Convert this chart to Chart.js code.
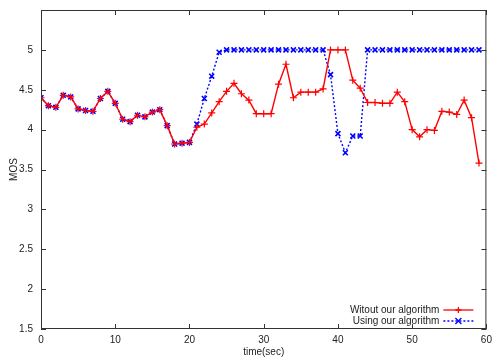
<!DOCTYPE html>
<html>
<head>
<meta charset="utf-8">
<script src="https://cdn.jsdelivr.net/npm/chart.js@4/dist/chart.umd.min.js"></script>
<style>
  html, body { margin: 0; padding: 0; background: #fff; }
  #wrap { width: 492px; height: 358px; }
</style>
</head>
<body>
<div id="wrap"><canvas id="mos"></canvas></div>
<script>
// time axis (seconds)
const seconds = Array.apply(null, { length: 60 }).map(Number.call, Number);

const withoutAlgo = [
    4.40, 4.30, 4.28, 4.43, 4.41, 4.26, 4.24, 4.23, 4.39, 4.48,
    4.33, 4.13, 4.10, 4.18, 4.16, 4.22, 4.25, 4.05, 3.82, 3.83,
    3.84, 4.03, 4.07, 4.21, 4.35, 4.48, 4.58, 4.45, 4.37, 4.20,
    4.20, 4.20, 4.57, 4.82, 4.40, 4.47, 4.47, 4.47, 4.51, 5.00,
    5.00, 5.00, 4.62, 4.52, 4.34, 4.34, 4.33, 4.33, 4.47, 4.35,
    4.00, 3.91, 4.00, 3.99, 4.23, 4.22, 4.19, 4.37, 4.15, 3.58
];

const withAlgo = [
    4.40, 4.30, 4.28, 4.43, 4.41, 4.26, 4.24, 4.23, 4.39, 4.48,
    4.33, 4.13, 4.10, 4.18, 4.16, 4.22, 4.25, 4.05, 3.82, 3.83,
    3.84, 4.07, 4.39, 4.67, 4.97, 5.00, 5.00, 5.00, 5.00, 5.00,
    5.00, 5.00, 5.00, 5.00, 5.00, 5.00, 5.00, 5.00, 5.00, 4.69,
    3.95, 3.71, 3.92, 3.92, 5.00, 5.00, 5.00, 5.00, 5.00, 5.00,
    5.00, 5.00, 5.00, 5.00, 5.00, 5.00, 5.00, 5.00, 5.00, 5.00
];

const seriesNames = ['Witout our algorithm', 'Using our algorithm'];
const xTicks = [0, 10, 20, 30, 40, 50, 60];
const yTicks = [1.5, 2, 2.5, 3, 3.5, 4, 4.5, 5, 5.5];

const FONT = { family: 'Liberation Sans, Arial, sans-serif', size: 10 };
const INK = '#222';

// gnuplot-ish frame: box + inward ticks + legend in the lower right
const framePlugin = {
    id: 'frame',
    afterDraw(chart) {
        const { ctx, chartArea: a, scales } = chart;
        ctx.save();
        ctx.strokeStyle = '#333';
        ctx.lineWidth = 1;
        ctx.strokeRect(a.left + 0.5, a.top + 0.5, a.right - a.left - 1, a.bottom - a.top - 1);
        ctx.beginPath();
        xTicks.forEach(v => {
            const x = Math.round(scales.x.getPixelForValue(v)) + 0.5;
            ctx.moveTo(x, a.bottom); ctx.lineTo(x, a.bottom - 5);
            ctx.moveTo(x, a.top); ctx.lineTo(x, a.top + 5);
        });
        yTicks.forEach(v => {
            const y = Math.round(scales.y.getPixelForValue(v)) + 0.5;
            ctx.moveTo(a.left, y); ctx.lineTo(a.left + 5, y);
            ctx.moveTo(a.right, y); ctx.lineTo(a.right - 5, y);
        });
        ctx.stroke();

        // legend
        ctx.font = FONT.size + 'px ' + FONT.family;
        ctx.textAlign = 'right';
        ctx.textBaseline = 'middle';
        chart.data.datasets.forEach((ds, i) => {
            const y = a.bottom - 19 + i * 11;
            ctx.fillStyle = INK;
            ctx.fillText(ds.label, a.right - 47, y);
            ctx.strokeStyle = ds.borderColor;
            ctx.lineWidth = 1.3;
            ctx.setLineDash(ds.borderDash || []);
            ctx.beginPath();
            ctx.moveTo(a.right - 43, y); ctx.lineTo(a.right - 13, y);
            ctx.stroke();
            ctx.setLineDash([]);
            const cx = a.right - 28, r = 3;
            ctx.beginPath();
            if (ds.pointStyle === 'cross') {
                ctx.moveTo(cx - r, y); ctx.lineTo(cx + r, y);
                ctx.moveTo(cx, y - r); ctx.lineTo(cx, y + r);
            } else {
                ctx.moveTo(cx - r, y - r); ctx.lineTo(cx + r, y + r);
                ctx.moveTo(cx - r, y + r); ctx.lineTo(cx + r, y - r);
            }
            ctx.stroke();
        });
        ctx.restore();
    }
};

function noPad(s) {
    s.paddingTop = 0; s.paddingBottom = 0;
    s.paddingLeft = 0; s.paddingRight = 0;
}

new Chart(document.getElementById('mos'), {
    type: 'line',
    data: {
        labels: seconds,
        datasets: [{
            label: seriesNames[0],
            data: withoutAlgo.map((v, i) => ({ x: seconds[i], y: v })),
            borderColor: '#ff0000',
            backgroundColor: '#ff0000',
            borderWidth: 1.4,
            pointStyle: 'cross',
            pointRadius: 3.5,
            pointBorderWidth: 1.2,
            tension: 0
        }, {
            label: seriesNames[1],
            data: withAlgo.map((v, i) => ({ x: seconds[i], y: v })),
            borderColor: '#0000ff',
            backgroundColor: '#0000ff',
            borderWidth: 1.4,
            borderDash: [2, 2],
            pointStyle: 'crossRot',
            pointRadius: 3.5,
            pointBorderWidth: 1.6,
            tension: 0
        }]
    },
    options: {
        responsive: true,
        maintainAspectRatio: false,
        animation: false,
        layout: { padding: { top: 10, right: 4, left: 0, bottom: 0 } },
        plugins: {
            legend: { display: false },
            tooltip: { enabled: false }
        },
        scales: {
            x: {
                type: 'linear',
                min: 0,
                max: 60,
                grid: { display: false, drawTicks: false },
                border: { display: false },
                ticks: { stepSize: 10, color: INK, font: FONT, padding: 5, maxRotation: 0 },
                title: { display: true, text: 'time(sec)', color: INK, font: FONT, padding: { top: 0, bottom: 0 } },
                afterFit: s => { s.height = 29; noPad(s); }
            },
            y: {
                min: 1.5,
                max: 5.5,
                grid: { display: false, drawTicks: false },
                border: { display: false },
                ticks: {
                    stepSize: 0.5,
                    color: INK,
                    font: FONT,
                    padding: 8,
                    callback: v => (v >= 5.5 ? '' : v)
                },
                title: { display: true, text: 'MOS', color: INK, font: FONT, padding: { top: 8, bottom: 0 } },
                afterFit: s => { s.width = 41; noPad(s); }
            }
        }
    },
    plugins: [framePlugin]
});
</script>
</body>
</html>
